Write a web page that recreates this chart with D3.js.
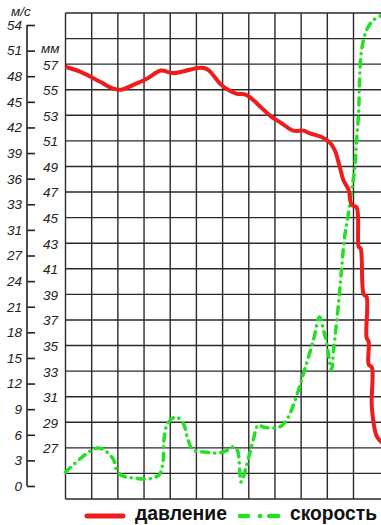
<!DOCTYPE html>
<html>
<head>
<meta charset="utf-8">
<script src="https://cdn.jsdelivr.net/npm/d3@7"></script>
<style>
  body { margin: 0; background: #fff; }
  svg { display: block; }
  .lbl { font-family: "Liberation Sans", Arial, sans-serif; font-style: italic; font-size: 13.5px; fill: #222; }
  .legend { font-family: "Liberation Sans", Arial, sans-serif; font-weight: bold; font-size: 20px; fill: #111; }
</style>
</head>
<body>
<svg id="chart" width="381" height="525"></svg>
<script>
    // values (x = grid columns, no labels on x)
    const pressureX  = [0, 0.58, 1.34, 1.8, 2.11, 2.61, 3.14, 3.64, 4.1, 4.52, 5.06, 5.29, 5.48, 5.94, 6.21, 6.52, 6.9, 7.17, 7.48, 7.86, 8.24, 8.7, 9.09, 9.32, 9.78, 10.08, 10.28, 10.47, 10.62, 10.81, 10.93, 11.12, 11.2, 11.27, 11.39, 11.5, 11.5, 11.58, 11.58, 11.7, 11.7, 11.89, 12.1];
    const pressureMM = [56.8, 56.4, 55.6, 55.1, 55.0, 55.4, 55.9, 56.5, 56.3, 56.45, 56.7, 56.7, 56.5, 55.4, 55.0, 54.7, 54.6, 54.2, 53.6, 52.9, 52.4, 51.8, 51.8, 51.6, 51.3, 50.9, 50.3, 49.0, 47.9, 47.2, 46.0, 45.8, 42.7, 42.6, 39.0, 38.8, 35.6, 35.3, 33.5, 33.3, 30.2, 27.9, 27.4];

    const speedX  = [0, 1.23, 1.8, 1.99, 2.3, 2.61, 3.14, 3.57, 3.72, 3.76, 3.91, 4.22, 4.49, 4.68, 4.87, 5.29, 5.83, 6.21, 6.4, 6.56, 6.71, 6.9, 7.17, 7.36, 7.55, 7.94, 8.24, 8.51, 8.9, 9.13, 9.47, 9.7, 9.85, 9.97, 10.16, 10.24, 10.43, 10.54, 10.66, 10.81, 10.93, 11.04, 11.12, 11.2, 11.23, 11.31, 11.5, 11.77, 12.1];
    const speedMS = [1.6, 4.45, 3.28, 1.64, 1.05, 0.94, 0.82, 1.29, 2.69, 5.39, 7.38, 8.08, 7.38, 5.39, 4.22, 3.98, 3.87, 4.22, 4.57, 4.22, 0.47, 2.23, 5.39, 7.15, 6.91, 6.79, 7.03, 8.08, 11.25, 13.59, 17.1, 19.8, 18.27, 16.87, 13.59, 15.93, 21.44, 25.3, 29.17, 31.98, 34.67, 37.02, 40.53, 44.04, 47.56, 51.07, 53.41, 54.59, 55.17];

    const speedTicks = d3.range(0, 55, 3);
    const speedTickLabels = ["0","3","6","9","12","15","18","21","24","27","31","33","36","39","42","45","48","51","54"];
    const mmTicks = d3.range(27, 58, 2);
    const mmGrid = d3.range(23, 62, 2);
    const columns = d3.range(0, 12);

    const legendNames = ["давление", "скорость"];

    let svg = d3.select("svg#chart");
    let width = +svg.attr("width");

    const red = "#ee1c1c";
    const green = "#22e022";

    // scales
    const xScale = d3.scaleLinear().domain([0, 11]).range([65.5, 353.5]);
    const mmScale = d3.scaleLinear().domain([23, 61]).range([499, 13]);
    const speedScale = d3.scaleLinear().domain([0, 54]).range([486, 25]);

    // grid
    let grid = svg.append("g").attr("stroke", "#2a2a2a").attr("stroke-width", 1.4);
    mmGrid.forEach(m => {
      grid.append("line")
        .attr("x1", 65.5).attr("x2", width)
        .attr("y1", mmScale(m)).attr("y2", mmScale(m));
    });
    columns.forEach(c => {
      grid.append("line")
        .attr("x1", xScale(c)).attr("x2", xScale(c))
        .attr("y1", 13).attr("y2", 499);
    });

    // m/s axis on the far left
    let speedAxis = d3.axisRight(speedScale)
      .tickValues(speedTicks)
      .tickSize(8)
      .tickFormat("");
    let sa = svg.append("g").attr("transform", "translate(27,0)").call(speedAxis);
    sa.select(".domain").attr("d", "M0," + speedScale(54) + "V" + speedScale(0)).attr("stroke", "#222").attr("stroke-width", 1.6);
    sa.selectAll(".tick line").attr("stroke", "#222").attr("stroke-width", 1.6);

    svg.append("g").selectAll("text")
      .data(speedTicks)
      .join("text")
      .attr("class", "lbl")
      .attr("x", 22)
      .attr("y", d => speedScale(d))
      .attr("dy", "0.36em")
      .attr("text-anchor", "end")
      .text((d, i) => speedTickLabels[i]);

    svg.append("text").attr("class", "lbl").attr("x", 11).attr("y", 16).text("м/с");

    // mm labels next to the grid
    svg.append("g").selectAll("text")
      .data(mmTicks)
      .join("text")
      .attr("class", "lbl")
      .attr("x", 58)
      .attr("y", d => mmScale(d))
      .attr("dy", "0.4em")
      .attr("text-anchor", "end")
      .text(d => d);

    svg.append("text").attr("class", "lbl").attr("x", 41).attr("y", 53).text("мм");

    // curves
    let pressureLine = d3.line()
      .x((d, i) => xScale(pressureX[i]))
      .y(d => mmScale(d))
      .curve(d3.curveCatmullRom.alpha(0.5));

    let speedLine = d3.line()
      .x((d, i) => xScale(speedX[i]))
      .y(d => speedScale(d))
      .curve(d3.curveCatmullRom.alpha(0.5));

    svg.append("path")
      .attr("d", speedLine(speedMS))
      .attr("fill", "none")
      .attr("stroke", green)
      .attr("stroke-width", 3.5)
      .attr("stroke-linecap", "round")
      .attr("stroke-dasharray", "7,6,0.1,6");

    svg.append("path")
      .attr("d", pressureLine(pressureMM))
      .attr("fill", "none")
      .attr("stroke", red)
      .attr("stroke-width", 4)
      .attr("stroke-linejoin", "round");

    // legend
    let legend = svg.append("g");
    legend.append("line")
      .attr("x1", 87).attr("x2", 123).attr("y1", 516).attr("y2", 516)
      .attr("stroke", red).attr("stroke-width", 5).attr("stroke-linecap", "round");
    legend.append("text").attr("class", "legend")
      .attr("x", 135).attr("y", 519.5)
      .attr("textLength", 92).attr("lengthAdjust", "spacingAndGlyphs")
      .text(legendNames[0]);
    legend.append("line")
      .attr("x1", 240).attr("x2", 278).attr("y1", 516).attr("y2", 516)
      .attr("stroke", green).attr("stroke-width", 4.5).attr("stroke-linecap", "round")
      .attr("stroke-dasharray", "8,12,0.1,9,9");
    legend.append("text").attr("class", "legend")
      .attr("x", 290).attr("y", 519.5)
      .attr("textLength", 87).attr("lengthAdjust", "spacingAndGlyphs")
      .text(legendNames[1]);
</script>
</body>
</html>
